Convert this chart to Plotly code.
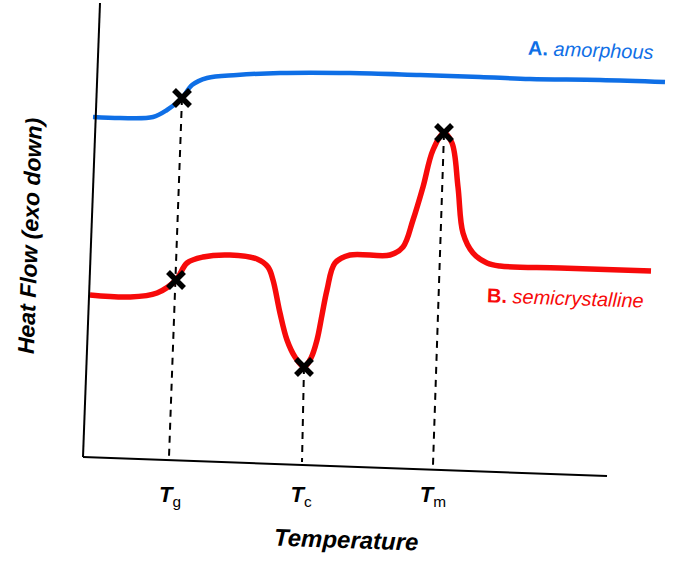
import plotly.graph_objects as go

# ---- data (arbitrary temperature / heat-flow units read from the schematic) ----
amorph_T = [13, 40, 73, 87, 102, 112, 127, 157, 200, 270, 340, 400, 450, 520, 585]
amorph_HF = [360, 359, 360, 367, 379, 392, 399, 402, 404, 404, 402, 400, 398, 397, 395]

semi_T = [10, 50, 77, 96, 107, 123, 150, 177, 188, 193, 200, 207, 215, 224, 231, 237,
          242, 247, 255, 270, 310, 323, 333, 343, 353, 364, 372, 378, 383, 393, 407,
          420, 480, 571]
semi_HF = [182, 180, 184, 197, 214, 220, 222, 218, 210, 197, 164, 137, 120, 110, 119, 137,
           162, 187, 214, 222, 222, 230, 257, 290, 327, 344, 334, 290, 244, 224, 214,
           211, 209, 206]

# transition markers
amorph_tg = (102, 379)
semi_tg = (96, 197)
semi_tc = (224, 110)
semi_tm = (364, 344)

# dashed guide lines (top point, foot on axis)
guide_tg = ([102, 89], [379, 20])
guide_tc = ([224, 222], [110, 15])
guide_tm = ([364, 353], [344, 12])

tick_vals = [90, 221, 353]
tick_text = ["<b><i>T</i></b><sub>g</sub>", "<b><i>T</i></b><sub>c</sub>", "<b><i>T</i></b><sub>m</sub>"]

BLUE = "#0f6fe6"
RED = "#f70a0a"

fig = go.Figure()

for gx, gy in (guide_tg, guide_tc, guide_tm):
    fig.add_trace(go.Scatter(x=gx, y=gy, mode="lines",
                             line=dict(color="black", width=2, dash="7px,6px"),
                             hoverinfo="skip", showlegend=False))

fig.add_trace(go.Scatter(x=amorph_T, y=amorph_HF, mode="lines", line_shape="spline",
                         line=dict(color=BLUE, width=4.5), name="A. amorphous",
                         showlegend=False))
fig.add_trace(go.Scatter(x=semi_T, y=semi_HF, mode="lines", line_shape="spline",
                         line=dict(color=RED, width=5.5), name="B. semicrystalline",
                         showlegend=False))

mx = [amorph_tg[0], semi_tg[0], semi_tc[0], semi_tm[0]]
my = [amorph_tg[1], semi_tg[1], semi_tc[1], semi_tm[1]]
fig.add_trace(go.Scatter(x=mx, y=my, mode="markers",
                         marker=dict(symbol="x-thin", size=16, color="black",
                                     line=dict(color="black", width=5.5)),
                         showlegend=False, hoverinfo="skip"))

FONT = "Liberation Sans, Arial, sans-serif"

fig.update_layout(
    width=673, height=577,
    margin=dict(l=80, r=0, t=0, b=100),
    paper_bgcolor="white", plot_bgcolor="white",
    xaxis=dict(range=[0, 593], showgrid=False, zeroline=False, showline=False,
               tickmode="array", tickvals=tick_vals, ticktext=tick_text,
               ticks="", tickfont=dict(family=FONT, size=22, color="black"),
               ticklabelstandoff=2, tickangle=0),
    yaxis=dict(range=[0, 477], showgrid=False, zeroline=False, showline=False,
               showticklabels=False, ticks=""),
    shapes=[
        dict(type="line", xref="x", yref="y", x0=20, y0=474, x1=3, y1=20,
             line=dict(color="black", width=2)),
        dict(type="line", xref="x", yref="y", x0=3, y0=20, x1=527, y1=1,
             line=dict(color="black", width=2)),
    ],
    annotations=[
        dict(text="<b><i>Temperature</i></b>", xref="paper", yref="paper",
             x=0.4486, y=-0.132, xanchor="center", yanchor="middle",
             showarrow=False, textangle=2,
             font=dict(family=FONT, size=24, color="black")),
        dict(text="<b><i>Heat Flow (exo down)</i></b>", xref="paper", yref="paper",
             x=-0.0843, y=0.505, xanchor="center", yanchor="middle",
             showarrow=False, textangle=-88,
             font=dict(family=FONT, size=23, color="black")),
        dict(text="<b>A.</b> <i>amorphous</i>", xref="x", yref="y",
             x=511, y=427, xanchor="center", yanchor="middle",
             showarrow=False, textangle=2,
             font=dict(family=FONT, size=20, color=BLUE)),
        dict(text="<b>B.</b> <i>semicrystalline</i>", xref="x", yref="y",
             x=485, y=179, xanchor="center", yanchor="middle",
             showarrow=False, textangle=2,
             font=dict(family=FONT, size=20, color=RED)),
    ],
)

fig.write_html("out.html",
               config={"displayModeBar": False},
               post_script="document.body.style.margin='0';document.body.style.overflow='hidden';")
